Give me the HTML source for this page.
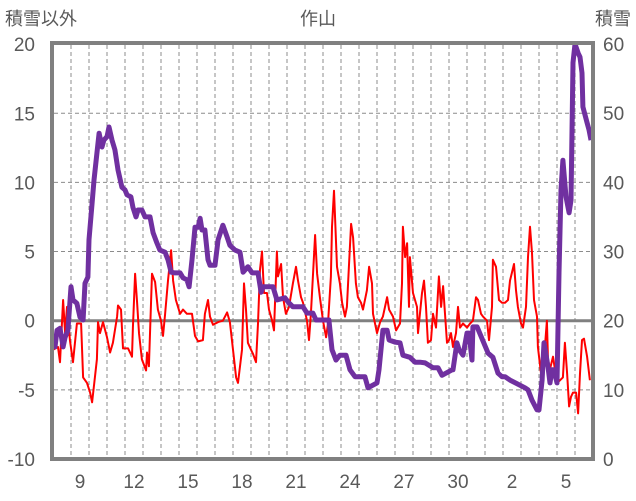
<!DOCTYPE html>
<html><head><meta charset="utf-8"><style>
html,body{margin:0;padding:0;background:#fff;}
svg{display:block;font-family:"Liberation Sans","Noto Sans CJK JP",sans-serif;}
</style></head><body>
<svg id="chart" width="636" height="501" viewBox="0 0 636 501">
<text x="5" y="25" font-size="18" fill="#595959">積雪以外</text>
<text x="318" y="25" font-size="18" fill="#595959" text-anchor="middle">作山</text>
<text x="631" y="25" font-size="18" fill="#595959" text-anchor="end">積雪</text>
<g id="grid"></g>
<g id="ticks"></g>
<g id="series"></g>
<rect x="52" y="43" width="541" height="416" fill="none" stroke="#808080" stroke-width="4"/>
</svg>
<script>
const leftTicks = [20, 15, 10, 5, 0, -5, -10];
const rightTicks = [60, 50, 40, 30, 20, 10, 0];
const dayLabels = ["9","12","15","18","21","24","27","30","2","5"];
const dayLabelIdx = [1,4,7,10,13,16,19,22,25,28];
const numDays = 30;
const redT = [0,.28,.39,.56,.67,.78,.94,1.11,1.33,1.56,1.67,1.89,2.06,2.17,2.33,2.44,2.5,2.61,2.78,3.0,3.17,3.33,3.56,3.61,3.78,3.89,4.17,4.39,4.44,4.56,4.67,4.78,4.94,5.17,5.22,5.33,5.5,5.67,5.83,6.0,6.11,6.22,6.39,6.56,6.67,6.83,7.06,7.22,7.44,7.72,7.89,8.06,8.33,8.44,8.61,8.72,8.89,9.17,9.44,9.67,9.83,10.0,10.17,10.28,10.5,10.61,10.72,10.83,11.0,11.11,11.28,11.39,11.5,11.61,11.72,11.89,12.0,12.17,12.28,12.44,12.5,12.67,12.78,12.94,13.11,13.33,13.5,13.61,13.78,13.89,14.11,14.22,14.33,14.44,14.56,14.67,14.83,15.0,15.17,15.28,15.44,15.5,15.61,15.78,15.94,16.06,16.22,16.33,16.44,16.56,16.67,16.83,16.94,17.11,17.22,17.44,17.56,17.72,17.78,18.0,18.17,18.33,18.56,18.67,18.89,19.06,19.28,19.39,19.44,19.56,19.67,19.78,19.83,20.0,20.22,20.28,20.5,20.61,20.72,20.83,21.0,21.11,21.28,21.44,21.56,21.67,21.78,21.89,22.0,22.11,22.22,22.39,22.5,22.61,22.78,23.0,23.17,23.33,23.5,23.61,23.78,23.89,24.11,24.22,24.39,24.44,24.61,24.78,24.94,25.11,25.28,25.39,25.61,25.72,25.83,26.0,26.11,26.28,26.39,26.5,26.61,26.72,26.89,26.94,27.11,27.22,27.33,27.44,27.5,27.61,27.78,28.0,28.17,28.33,28.44,28.56,28.67,28.78,28.89,29.06,29.17,29.28,29.39,29.5,29.67,29.83];
const redV = [-2.1,-1.9,-3,1.5,-0.9,1,-1.4,-3,-0.2,-0.2,-4.1,-4.5,-5.2,-5.9,-4.1,-2.8,-0.1,-0.9,-0.1,-1.2,-2.3,-1.6,0.3,1.1,0.8,-2,-2,-2.6,-0.5,3.4,1.3,-0.9,-2.8,-3.6,-2.3,-3.3,3.4,2.8,0.8,0,-1.1,0.4,2.9,5.1,2.9,1.5,0.5,0.8,0.5,0.5,-1.1,-1.5,-1.4,0.5,1.5,0.3,-0.3,-0.1,0,0.6,-0.1,-2.1,-4.1,-4.5,-2.1,2.7,0.8,-1.6,-2.1,-2.4,-3,-0.2,3.7,5,2,2,0.8,0,-0.7,5,3.2,4.1,1.7,0.5,1,2.7,3.9,2.9,1.7,1.3,0,-1.4,0.5,3.2,6.2,3.4,1.7,0,-1.2,-0.2,3.2,6.8,9.4,3.9,2.7,1.3,0.3,1,3.9,7,6,2.7,1.7,1.3,0.8,2.2,3.9,2.7,0.5,-0.9,-0.1,0.3,1.7,0.8,0.3,-0.7,-0.2,2.7,6.8,4.6,5.6,1,4.6,2,1,-0.9,2,2.9,1,-1.6,-1.4,0.5,-0.5,3.2,1,2.5,0.5,-1.6,-1.4,-0.9,-1.9,-0.9,1,-0.5,-0.2,-0.5,-0.2,0,1.7,1.5,0.5,0.3,0,-1.4,1,4.4,3.9,1.5,1.3,1.3,1.5,2.9,4.1,2.2,1,-0.2,-0.5,1,4.6,6.8,4.9,1.5,0.3,-1.9,-3.8,-3.8,-1.9,0,-2.8,-3.5,-2.6,-4.5,-4.3,-4.1,-1.6,-3.8,-6.2,-5.5,-5.2,-5.2,-6.7,-3.8,-1.4,-1.3,-2.6,-4.3];
const snowT = [0,.11,.22,.39,.56,.67,.83,1.0,1.11,1.33,1.5,1.67,1.78,1.94,2.0,2.17,2.28,2.44,2.56,2.72,2.83,3.0,3.11,3.28,3.44,3.61,3.83,4.0,4.11,4.33,4.44,4.61,4.72,4.94,5.11,5.39,5.56,5.78,5.94,6.22,6.39,6.56,6.78,7.06,7.22,7.44,7.56,7.72,7.89,8.06,8.17,8.28,8.44,8.61,8.72,9.0,9.17,9.44,9.67,9.83,10.11,10.39,10.56,10.83,11.06,11.39,11.56,11.67,12.22,12.44,12.89,13.06,13.33,13.89,14.11,14.44,14.61,15.33,15.5,15.72,15.94,16.28,16.5,16.78,17.33,17.5,18.0,18.11,18.33,18.56,18.67,19.0,19.28,19.44,19.83,20.11,20.39,20.67,21.11,21.39,21.61,22.17,22.22,22.44,22.56,22.78,23.0,23.11,23.28,23.33,23.56,24.17,24.44,24.72,24.94,25.11,25.39,26.22,26.39,26.61,26.89,27.0,27.17,27.28,27.44,27.5,27.61,27.72,27.83,28.0,28.11,28.22,28.33,28.5,28.61,28.67,28.78,28.89,29.0,29.17,29.28,29.39,29.44,29.67,29.78,29.89];
const snowV = [17,16.2,18.6,18.9,16.2,17.6,18.6,24.9,23,22.5,20.5,20.1,25.4,26.3,31.7,37,40.3,44.2,47.1,45.1,46.1,46.6,48,46.1,44.7,41.8,39.3,38.9,38.2,37.9,36.4,35,36,36,35,35,32.7,31.2,30.2,29.9,28.8,27,26.9,26.9,26.2,25.9,24.9,28.8,33.5,33.5,34.8,33.1,33.1,28.8,28,28,31.7,33.8,32.1,30.9,30.2,29.9,27,27.8,26.9,26.9,24.1,24.9,24.9,23,23.3,22.7,22,22,21.1,21.1,20.1,20.1,15.8,14.3,15,15,12.9,11.9,11.9,10.3,11,12.9,18.6,18.6,17.2,16.9,16.8,15,14.7,14,14,13.9,13.2,13.2,12.1,12.9,12.9,16.8,15.8,15,18.2,18.2,14.3,19.1,19.1,15.3,14.7,12.4,11.9,11.9,11.4,10.3,10,8.5,7.1,7.1,11.4,16.8,14.3,13.3,11,12.9,12.9,11,26.9,38.9,43.2,37.9,36.4,35.6,37.4,57.3,60,58.7,58.1,55.8,50.9,48.6,47.6,46.1,51.9];

const NS = "http://www.w3.org/2000/svg";
const X0 = 53, DAYW = 18;
const xOf = t => X0 + t * DAYW;
const yL = v => 320.7 - v * 13.83;
const yR = v => 459 - v * 6.917;
function mk(tag, attrs, parent){ const e = document.createElementNS(NS, tag); for (const k in attrs) e.setAttribute(k, attrs[k]); parent.appendChild(e); return e; }
const grid = document.getElementById('grid');
const ticks = document.getElementById('ticks');
const series = document.getElementById('series');
for (let i = 1; i < numDays; i++) {
  const l = mk('line', {x1: xOf(i), x2: xOf(i), y1: 45, y2: 457, stroke: '#8c8c8c', 'stroke-width': 1, 'stroke-dasharray': '4,3'}, grid);
  
  
}
leftTicks.forEach(v => {
  if (v !== 0 && v !== 20 && v !== -10) {
    const l = mk('line', {x1: 54, x2: 591, y1: yL(v), y2: yL(v), stroke: '#8c8c8c', 'stroke-width': 1, 'stroke-dasharray': '4,3'}, grid);
    
    
  }
  const t = mk('text', {x: 35, y: yL(v) + 7, 'font-size': 19, fill: '#595959', 'text-anchor': 'end'}, ticks);
  t.textContent = v;
  
  
});
const zl = mk('line', {x1: 54, x2: 591, y1: yL(0), y2: yL(0), stroke: '#808080', 'stroke-width': 3}, grid);


rightTicks.forEach(v => {
  const t = mk('text', {x: 603, y: yR(v) + 7, 'font-size': 19, fill: '#595959'}, ticks);
  t.textContent = v;
  
  
});
dayLabels.forEach((d, i) => {
  const t = mk('text', {x: xOf(dayLabelIdx[i] + 0.5), y: 488, 'font-size': 19, fill: '#595959', 'text-anchor': 'middle'}, ticks);
  t.textContent = d;
  
  
});
const redPts = redT.map((t, i) => xOf(t).toFixed(1) + ',' + yL(redV[i]).toFixed(1)).join(' ');
const red = mk('polyline', {points: redPts, fill: 'none', stroke: '#ff0000', 'stroke-width': 2, 'stroke-linejoin': 'round'}, series);


const snowPts = snowT.map((t, i) => xOf(t).toFixed(1) + ',' + yR(snowV[i]).toFixed(1)).join(' ');
const snow = mk('polyline', {points: snowPts, fill: 'none', stroke: '#7030a0', 'stroke-width': 5, 'stroke-linejoin': 'round'}, series);


</script>
</body></html>
